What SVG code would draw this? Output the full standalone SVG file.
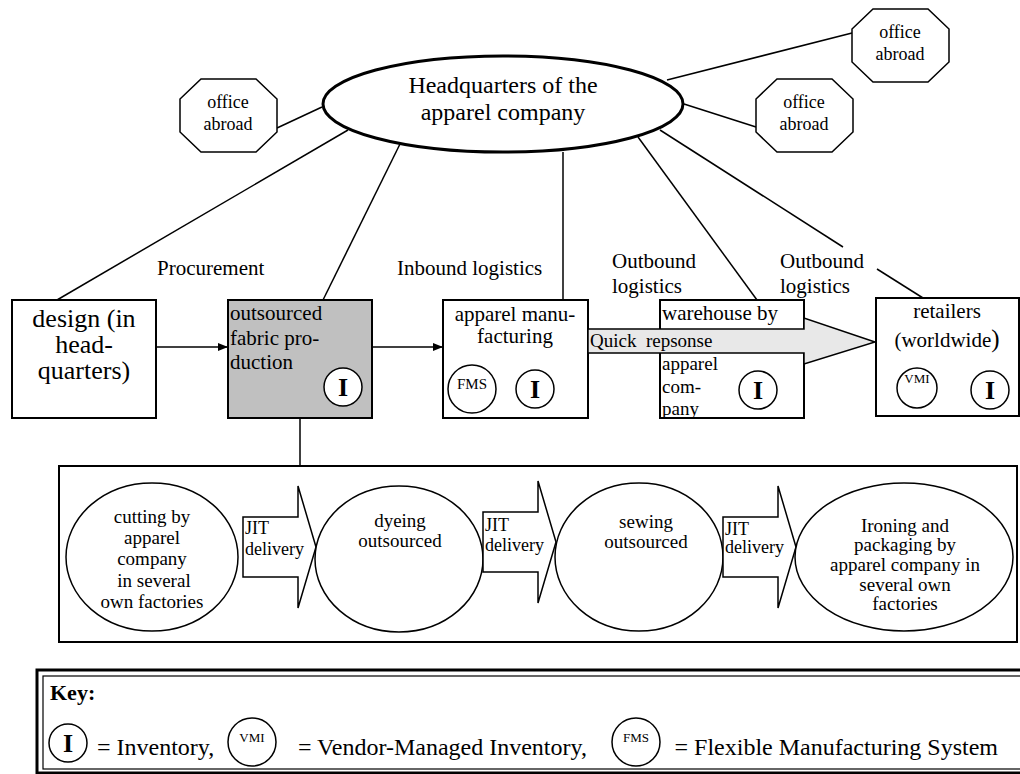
<svg xmlns="http://www.w3.org/2000/svg" width="1020" height="774" viewBox="0 0 1020 774">
  <style>
    text { font-family: "Liberation Serif", "Times New Roman", serif; fill: #000; }
    .ln { stroke: #000; stroke-width: 1.5; fill: none; }
    .box { stroke: #000; stroke-width: 2; fill: #fff; }
    .grey { fill: #c0c0c0; }
    .oct { stroke: #000; stroke-width: 1.5; fill: #fff; }
    .circ { stroke: #000; stroke-width: 1.5; fill: #fff; }
    .inv { font-weight: bold; font-size: 26px; text-anchor: middle; }
    .mid { text-anchor: middle; }
    .t18 { font-size: 18px; }
    .t19 { font-size: 19px; }
    .t21 { font-size: 21px; }
    .jit { stroke: #000; stroke-width: 1.5; fill: #fff; }
  </style>
  <defs>
    <marker id="arr" viewBox="0 0 10 10" refX="10" refY="5" markerWidth="10" markerHeight="10" markerUnits="userSpaceOnUse" orient="auto">
      <path d="M0,1 L10,5 L0,9 Z" fill="#000"/>
    </marker>
    <polygon id="octShape" points="21,0 76,0 97,20 97,53 76,73 21,73 0,53 0,20"/>
    <path id="jitShape" d="M0,0 H55 V-31 L73,30 L55,91 V60 H0 Z"/>
  </defs>

  <rect width="1020" height="774" fill="#fff"/>

  <!-- spokes from headquarters and flow arrows -->
  <g id="connectors">
    <line class="ln" x1="277" y1="128" x2="322" y2="107"/>
    <line class="ln" x1="348" y1="130" x2="57" y2="300"/>
    <line class="ln" x1="400" y1="144" x2="323" y2="300"/>
    <line class="ln" x1="563" y1="152" x2="563" y2="300"/>
    <line class="ln" x1="638" y1="137" x2="757" y2="300"/>
    <line class="ln" x1="660" y1="130" x2="843" y2="247"/>
    <line class="ln" x1="877" y1="269" x2="923" y2="298"/>
    <line class="ln" x1="684" y1="104" x2="756" y2="127"/>
    <line class="ln" x1="667" y1="80" x2="852" y2="33"/>
    <line class="ln" x1="156" y1="347" x2="228" y2="347" marker-end="url(#arr)"/>
    <line class="ln" x1="372" y1="347" x2="443" y2="347" marker-end="url(#arr)"/>
    <line class="ln" x1="300" y1="418" x2="300" y2="466"/>
  </g>

  <!-- headquarters -->
  <g id="hq">
    <ellipse cx="503" cy="104" rx="180" ry="48" fill="#fff" stroke="#000" stroke-width="3"/>
    <text class="mid" x="503" y="93" font-size="24">Headquarters of the</text>
    <text class="mid" x="503" y="120" font-size="24">apparel company</text>
  </g>

  <!-- offices abroad -->
  <g id="office-left">
    <use href="#octShape" class="oct" x="180" y="79"/>
    <text class="mid t18" x="228" y="108">office</text>
    <text class="mid t18" x="228" y="130">abroad</text>
  </g>
  <g id="office-mid">
    <use href="#octShape" class="oct" x="756" y="79"/>
    <text class="mid t18" x="804" y="108">office</text>
    <text class="mid t18" x="804" y="130">abroad</text>
  </g>
  <g id="office-top">
    <use href="#octShape" class="oct" x="852" y="9"/>
    <text class="mid t18" x="900" y="38">office</text>
    <text class="mid t18" x="900" y="60">abroad</text>
  </g>

  <!-- stage labels -->
  <g id="labels">
    <text class="t21" x="157" y="275">Procurement</text>
    <text class="t21" x="397" y="275">Inbound logistics</text>
    <text class="t21" x="612" y="268">Outbound</text>
    <text class="t21" x="612" y="293">logistics</text>
    <text class="t21" x="780" y="268">Outbound</text>
    <text class="t21" x="780" y="293">logistics</text>
  </g>

  <!-- design -->
  <g id="design">
    <rect class="box" x="12" y="300" width="144" height="118"/>
    <text class="mid" x="84" y="327" font-size="26">design (in</text>
    <text class="mid" x="84" y="353" font-size="26">head-</text>
    <text class="mid" x="84" y="379" font-size="26">quarters)</text>
  </g>

  <!-- outsourced fabric production -->
  <g id="fabric">
    <rect class="box grey" x="228" y="300" width="144" height="118"/>
    <text class="t21" x="230" y="320">outsourced</text>
    <text class="t21" x="230" y="345">fabric pro-</text>
    <text class="t21" x="230" y="369">duction</text>
    <circle class="circ" cx="343" cy="387" r="19"/>
    <text class="inv" x="343" y="396">I</text>
  </g>

  <!-- apparel manufacturing -->
  <g id="manufacturing">
    <rect class="box" x="443" y="300" width="145" height="118"/>
    <text class="mid t21" x="515" y="321">apparel manu-</text>
    <text class="mid t21" x="515" y="343">facturing</text>
    <circle class="circ" cx="472" cy="389" r="24"/>
    <text class="mid" x="472" y="389" font-size="15">FMS</text>
    <circle class="circ" cx="535" cy="389" r="19"/>
    <text class="inv" x="535" y="398">I</text>
  </g>

  <!-- warehouse -->
  <g id="warehouse">
    <rect class="box" x="660" y="300" width="144" height="118"/>
    <text class="t21" x="662" y="320">warehouse by</text>
    <text class="t19" x="662" y="370">apparel</text>
    <text class="t19" x="662" y="393">com-</text>
    <text class="t19" x="662" y="415">pany</text>
    <line x1="660" y1="418" x2="804" y2="418" stroke="#000" stroke-width="2"/>
    <circle class="circ" cx="758" cy="390" r="19"/>
    <text class="inv" x="758" y="399">I</text>
  </g>

  <!-- quick response arrow -->
  <g id="quick-response">
    <polygon points="588,329 804,329 804,318 875,342 804,364 804,353 588,353" fill="#e8e8e8" stroke="#000" stroke-width="1.5"/>
    <text class="t19" x="590" y="347" xml:space="preserve">Quick  repsonse</text>
  </g>

  <!-- retailers -->
  <g id="retailers">
    <rect class="box" x="876" y="298" width="143" height="118"/>
    <text class="mid t21" x="947" y="318">retailers</text>
    <text class="mid t21" x="947" y="347">(worldwide<tspan font-size="25">)</tspan></text>
    <circle class="circ" cx="917" cy="388" r="20"/>
    <text class="mid" x="917" y="383" font-size="13">VMI</text>
    <circle class="circ" cx="990" cy="390" r="19"/>
    <text class="inv" x="990" y="399">I</text>
  </g>

  <!-- production chain -->
  <g id="chain-frame">
    <rect x="59" y="466" width="958" height="176" fill="#fff" stroke="#000" stroke-width="2"/>
  </g>
  <g id="cutting">
    <ellipse class="circ" cx="152" cy="557" rx="86" ry="74"/>
    <text class="mid t19" x="152" y="523">cutting by</text>
    <text class="mid t19" x="152" y="544">apparel</text>
    <text class="mid t19" x="152" y="565">company</text>
    <text class="mid t19" x="154" y="587">in several</text>
    <text class="mid t19" x="152" y="608">own factories</text>
  </g>
  <g id="jit-1">
    <use href="#jitShape" class="jit" x="243" y="517"/>
    <text class="t18" x="245" y="534">JIT</text>
    <text class="t18" x="245" y="555">delivery</text>
  </g>
  <g id="dyeing">
    <ellipse class="circ grey" cx="399" cy="559" rx="84" ry="73"/>
    <text class="mid t19" x="400" y="527">dyeing</text>
    <text class="mid t19" x="400" y="547">outsourced</text>
  </g>
  <g id="jit-2">
    <use href="#jitShape" class="jit" x="483" y="512"/>
    <text class="t18" x="485" y="531">JIT</text>
    <text class="t18" x="485" y="551">delivery</text>
  </g>
  <g id="sewing">
    <ellipse class="circ grey" cx="639" cy="557" rx="84" ry="74"/>
    <text class="mid t19" x="646" y="528">sewing</text>
    <text class="mid t19" x="646" y="548">outsourced</text>
  </g>
  <g id="jit-3">
    <use href="#jitShape" class="jit" x="723" y="517"/>
    <text class="t18" x="725" y="535">JIT</text>
    <text class="t18" x="725" y="553">delivery</text>
  </g>
  <g id="ironing">
    <ellipse class="circ" cx="904" cy="557" rx="109" ry="74"/>
    <text class="mid t19" x="905" y="532">Ironing and</text>
    <text class="mid t19" x="905" y="551">packaging by</text>
    <text class="mid t19" x="905" y="571">apparel company in</text>
    <text class="mid t19" x="905" y="591">several own</text>
    <text class="mid t19" x="905" y="610">factories</text>
  </g>

  <!-- key -->
  <g id="key">
    <rect x="37" y="670" width="1000" height="103" fill="#fff" stroke="#000" stroke-width="3"/>
    <rect x="43" y="676" width="990" height="93" fill="none" stroke="#000" stroke-width="1.2"/>
    <text x="50" y="700" font-size="22" font-weight="bold">Key:</text>
    <circle class="circ" cx="68" cy="743" r="19"/>
    <text class="inv" x="68" y="752">I</text>
    <text x="97" y="755" font-size="24">= Inventory,</text>
    <circle class="circ" cx="252" cy="742" r="24"/>
    <text class="mid" x="252" y="742" font-size="13">VMI</text>
    <text x="298" y="755" font-size="24">= Vendor-Managed Inventory,</text>
    <circle class="circ" cx="636" cy="742" r="24"/>
    <text class="mid" x="636" y="742" font-size="13">FMS</text>
    <text x="998" y="755" font-size="24" text-anchor="end">= Flexible Manufacturing System</text>
  </g>
</svg>
